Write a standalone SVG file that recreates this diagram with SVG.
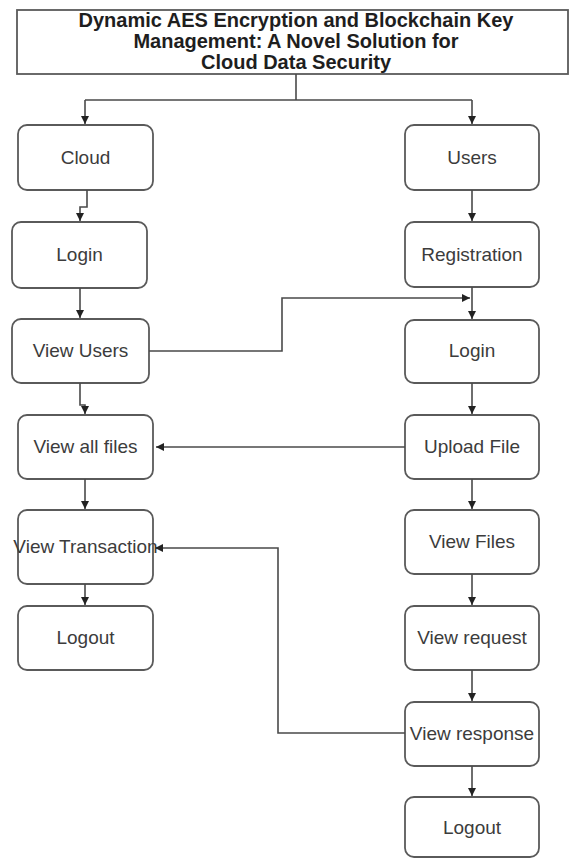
<svg xmlns="http://www.w3.org/2000/svg" width="570" height="860" viewBox="0 0 570 860">
  <style>
    .box { fill: #ffffff; stroke: #5a5a5a; stroke-width: 1.8; }
    .lbl { font-family: "Liberation Sans", Arial, sans-serif; font-size: 19px; fill: #3c3c3c; text-anchor: middle; }
    .ttl { font-family: "Liberation Sans", Arial, sans-serif; font-size: 20px; font-weight: bold; fill: #1e1e1e; text-anchor: middle; }
    .edge { fill: none; stroke: #4a4a4a; stroke-width: 1.6; }
  </style>
  <defs>
    <marker id="arrow" viewBox="0 0 10 10" refX="10" refY="5" markerWidth="8" markerHeight="8" markerUnits="userSpaceOnUse" orient="auto">
      <path d="M0,0 L10,5 L0,10 Z" fill="#222222"/>
    </marker>
  </defs>
  <rect width="570" height="860" fill="#ffffff"/>

  <!-- title block -->
  <g id="title">
    <rect x="17" y="10" width="551" height="64" fill="#ffffff" stroke="#5a5a5a" stroke-width="1.8"/>
    <text class="ttl" x="296" y="27">Dynamic AES Encryption and Blockchain Key</text>
    <text class="ttl" x="296" y="48">Management: A Novel Solution for</text>
    <text class="ttl" x="296" y="69">Cloud Data Security</text>
  </g>

  <!-- cloud side -->
  <g id="cloud"><rect class="box" x="18" y="125" width="135" height="65" rx="9"/><text class="lbl" x="85.5" y="164">Cloud</text></g>
  <g id="cloud-login"><rect class="box" x="12" y="222" width="135" height="66" rx="9"/><text class="lbl" x="79.5" y="261">Login</text></g>
  <g id="view-users"><rect class="box" x="12" y="319" width="137" height="64" rx="9"/><text class="lbl" x="80.5" y="357">View Users</text></g>
  <g id="view-all-files"><rect class="box" x="18" y="415" width="135" height="64" rx="9"/><text class="lbl" x="85.5" y="453">View all files</text></g>
  <g id="view-transaction"><rect class="box" x="18" y="510" width="135" height="74" rx="9"/><text class="lbl" x="85.5" y="553">View Transaction</text></g>
  <g id="cloud-logout"><rect class="box" x="18" y="606" width="135" height="64" rx="9"/><text class="lbl" x="85.5" y="644">Logout</text></g>

  <!-- user side -->
  <g id="users"><rect class="box" x="405" y="125" width="134" height="65" rx="9"/><text class="lbl" x="472" y="164">Users</text></g>
  <g id="registration"><rect class="box" x="405" y="222" width="134" height="65" rx="9"/><text class="lbl" x="472" y="261">Registration</text></g>
  <g id="user-login"><rect class="box" x="405" y="320" width="134" height="63" rx="9"/><text class="lbl" x="472" y="357">Login</text></g>
  <g id="upload-file"><rect class="box" x="405" y="415" width="134" height="64" rx="9"/><text class="lbl" x="472" y="453">Upload File</text></g>
  <g id="view-files"><rect class="box" x="405" y="510" width="134" height="64" rx="9"/><text class="lbl" x="472" y="548">View Files</text></g>
  <g id="view-request"><rect class="box" x="405" y="606" width="134" height="64" rx="9"/><text class="lbl" x="472" y="644">View request</text></g>
  <g id="view-response"><rect class="box" x="405" y="702" width="134" height="64" rx="9"/><text class="lbl" x="472" y="740">View response</text></g>
  <g id="user-logout"><rect class="box" x="405" y="797" width="134" height="60" rx="9"/><text class="lbl" x="472" y="834">Logout</text></g>

  <!-- connectors -->
  <g id="connectors">
    <path class="edge" d="M296,74 V100 M85,100 H472"/>
    <path class="edge" d="M85,100 V124" marker-end="url(#arrow)"/>
    <path class="edge" d="M472,100 V124" marker-end="url(#arrow)"/>
    <path class="edge" d="M87,190 V207 H80 V221" marker-end="url(#arrow)"/>
    <path class="edge" d="M80,288 V318" marker-end="url(#arrow)"/>
    <path class="edge" d="M80,383 V405 H85 V414" marker-end="url(#arrow)"/>
    <path class="edge" d="M85,479 V509" marker-end="url(#arrow)"/>
    <path class="edge" d="M85,584 V605" marker-end="url(#arrow)"/>
    <path class="edge" d="M149,351 H282 V298 H470" marker-end="url(#arrow)"/>
    <path class="edge" d="M472,190 V221" marker-end="url(#arrow)"/>
    <path class="edge" d="M472,287 V319" marker-end="url(#arrow)"/>
    <path class="edge" d="M472,383 V414" marker-end="url(#arrow)"/>
    <path class="edge" d="M405,447 H156" marker-end="url(#arrow)"/>
    <path class="edge" d="M472,479 V509" marker-end="url(#arrow)"/>
    <path class="edge" d="M472,574 V605" marker-end="url(#arrow)"/>
    <path class="edge" d="M472,670 V701" marker-end="url(#arrow)"/>
    <path class="edge" d="M472,766 V796" marker-end="url(#arrow)"/>
    <path class="edge" d="M405,733 H278 V548 H155" marker-end="url(#arrow)"/>
  </g>
</svg>
